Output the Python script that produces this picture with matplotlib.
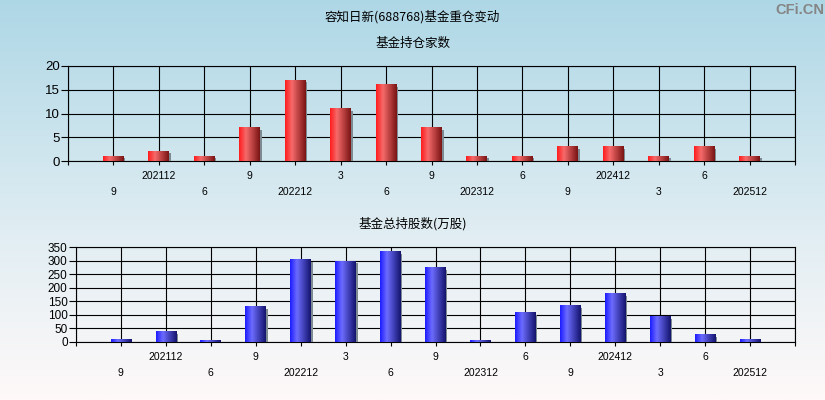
import numpy as np
import matplotlib
matplotlib.use("Agg")
from matplotlib import pyplot as plt
from matplotlib.colors import LinearSegmentedColormap
from matplotlib.patches import Rectangle

plt.rcParams['font.family'] = ['Liberation Sans', 'Noto Sans CJK SC', 'DejaVu Sans']

# report periods (quarter months, year shown at each December)
periods = ["9", "202112", "6", "9", "202212", "3", "6", "9",
           "202312", "6", "9", "202412", "3", "6", "202512"]
# number of funds holding the stock
fund_count = [1, 2, 1, 7, 17, 11, 16, 7, 1, 1, 3, 3, 1, 3, 1]
# total shares held by funds (10k shares)
fund_shares = [8, 38, 4, 130, 303, 298, 333, 274, 4, 108, 134, 178, 93, 27, 8]

red_cmap = LinearSegmentedColormap.from_list(
    "red_bar", [(0.0, "#ff1c1c"), (0.33, "#f66a6a"), (1.0, "#7a1414")])
blue_cmap = LinearSegmentedColormap.from_list(
    "blue_bar", [(0.0, "#1c1cff"), (0.33, "#6c6cff"), (1.0, "#14146e")])


def draw_panel(ax, values, cmap, ymax, ystep):
    n = len(values)
    x = np.arange(1, n + 1)
    bars = ax.bar(x, values, width=0.46, color='none', zorder=3)
    grad = np.linspace(0, 1, 64).reshape(1, -1)
    for b in bars:
        x0, w, h = b.get_x(), b.get_width(), b.get_height()
        sh = max(h - ymax * 0.02, 0)
        ax.add_patch(Rectangle((x0 + w, 0), 0.035, sh, color="#7d8a92",
                               lw=0, zorder=2.9))
        ax.imshow(grad, cmap=cmap, extent=(x0, x0 + w, 0, h),
                  aspect='auto', zorder=3, interpolation='bilinear')
    ax.set_xlim(0, n + 1)
    ax.set_ylim(0, ymax)
    ax.set_facecolor('none')

    top_pos = list(range(2, n + 1, 2))
    bot_pos = [0] + list(range(1, n + 1, 2)) + [n + 1]
    ax.set_xticks(top_pos)
    ax.set_xticklabels([periods[p - 1] for p in top_pos])
    ax.set_xticks(bot_pos, minor=True)
    ax.set_xticklabels([""] + [periods[p - 1] for p in bot_pos[1:-1]] + [""],
                       minor=True)
    ax.tick_params(axis='x', which='major', length=3, width=0.8, pad=4.5,
                   labelsize=7.5, colors='black')
    ax.tick_params(axis='x', which='minor', length=3, width=0.8, pad=16,
                   labelsize=7.5, colors='black')
    ax.set_yticks(np.arange(0, ymax + 1, ystep))
    ax.tick_params(axis='y', length=5, width=0.8, pad=1, colors='black')

    ax.grid(True, axis='x', which='both', color='black', lw=0.8, zorder=1)
    ax.grid(True, axis='y', which='major', color='black', lw=0.8, zorder=1)
    ax.set_axisbelow(True)
    for s in ax.spines.values():
        s.set_color('black')
        s.set_linewidth(0.8)


fig = plt.figure(figsize=(8.25, 4), dpi=100)

# background gradient
bg = fig.add_axes([0, 0, 1, 1], zorder=-10)
bg_grad = np.linspace(0, 1, 256).reshape(-1, 1)
bg_cmap = LinearSegmentedColormap.from_list(
    "bg", [(0.0, "#aed7e6"), (0.6, "#e2eef3"), (1.0, "#fff9f9")])
bg.imshow(bg_grad, cmap=bg_cmap, aspect='auto', extent=(0, 1, 0, 1))
bg.axis('off')

ax1 = fig.add_axes([68 / 825, 1 - 161 / 400, 727 / 825, 95 / 400])
draw_panel(ax1, fund_count, red_cmap, 20, 5)
ax1.tick_params(axis='y', labelsize=9.5)

ax2 = fig.add_axes([76 / 825, 1 - 342 / 400, 719 / 825, 95 / 400])
draw_panel(ax2, fund_shares, blue_cmap, 350, 50)
ax2.tick_params(axis='y', labelsize=8.5)

fig.text(0.5, 1 - 17 / 400, "容知日新(688768)基金重仓变动", ha='center', va='center',
         fontsize=9, family=['Noto Sans CJK SC', 'DejaVu Sans'])
fig.text(0.5, 1 - 43 / 400, "基金持仓家数", ha='center', va='center',
         fontsize=9, family=['Noto Sans CJK SC', 'DejaVu Sans'])
fig.text(0.5, 1 - 224 / 400, "基金总持股数(万股)", ha='center', va='center',
         fontsize=9, family=['Noto Sans CJK SC', 'DejaVu Sans'])
fig.text(800 / 825, 1 - 10 / 400, "CFi.CN", ha='center', va='center',
         fontsize=10.5, fontweight='bold', color='#858585')

fig.savefig("out.png", dpi=100)
